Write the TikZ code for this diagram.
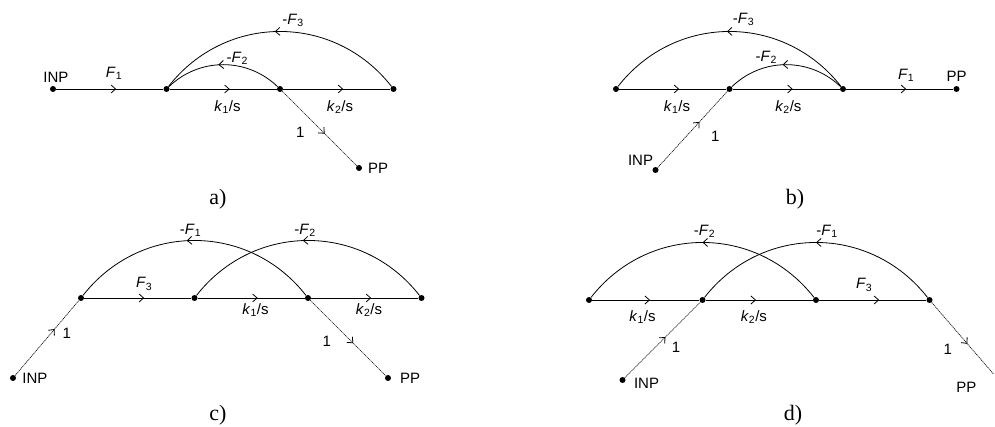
\documentclass[tikz,border=0pt]{standalone}
\usepackage{fontspec}
\setmainfont{Liberation Serif}
\setsansfont{Liberation Sans}
\usepackage{tikz}
\usetikzlibrary{arrows.meta,positioning,decorations.markings}
\tikzset{
    dot/.style={
        circle,
        fill=black,
        inner sep=0pt,
        minimum size=6pt
    },
    lbl/.style={
        font=\sffamily\fontsize{15}{17}\selectfont,
        inner sep=0pt
    },
    caption/.style={
        font=\fontsize{22}{25}\selectfont,
        inner sep=0pt
    },
    branch/.style={line width=0.8pt},
    unitpath/.style={line width=0.6pt,dash pattern=on 1.2pt off 0.7pt},
    flow/.style={
        postaction={decorate},
        decoration={markings,
            mark=at position #1 with {\arrow{Straight Barb[length=4.5pt,width=8pt,line width=0.8pt]}}}
    },
    flow/.default=0.56
}

\begin{document}
\begin{tikzpicture}[x=1pt,y=1pt,node distance=113.5pt,on grid]
    \useasboundingbox (0,0) rectangle (995,-427);

    % a)
    \node[dot] (a1) at (53,-89) {};
    \node[dot, right=of a1] (a2) {};
    \node[dot, right=of a2] (a3) {};
    \node[dot, right=of a3] (a4) {};
    \node[dot, below right=79pt and 79pt of a3] (app) {};
    \node[lbl, above right=12pt and 3pt of a1] (ainp) {INP};
    \node[lbl, right=19pt of app] (appl) {PP};

    \draw[branch,flow] (a1) -- node[lbl,pos=.54,yshift=16pt] (af1)
        {\textit{F}\textsubscript{1}} (a2);
    \draw[branch,flow] (a2) -- node[lbl,pos=.54,yshift=-18pt] (ak1)
        {\textit{k}\textsubscript{1}/s} (a3);
    \draw[branch,flow] (a3) -- node[lbl,pos=.53,yshift=-18pt] (ak2)
        {\textit{k}\textsubscript{2}/s} (a4);
    \draw[branch,flow=.52] (a4) to[bend right=52,looseness=1.07]
        node[lbl,xshift=13pt,yshift=11pt] (af3) {-\textit{F}\textsubscript{3}} (a2);
    \draw[branch,flow=.54] (a3) to[bend right=44]
        node[lbl,xshift=14pt,yshift=6pt] (af2) {-\textit{F}\textsubscript{2}} (a2);
    \draw[unitpath,flow=.57] (a3) -- node[lbl,pos=.55,xshift=-23pt] (ag) {1} (app);
    \node[caption] (capa) at (218,-199) {a)};

    % b)
    \node[dot] (b1) at (616,-89) {};
    \node[dot, right=of b1] (b2) {};
    \node[dot, right=of b2] (b3) {};
    \node[dot, right=of b3] (b4) {};
    \node[dot, below left=81pt and 74pt of b2] (binp) {};
    \node[lbl, above left=10pt and 15pt of binp] (binpl) {INP};
    \node[lbl, above=13pt of b4] (bpp) {PP};

    \draw[branch,flow] (b1) -- node[lbl,pos=.54,yshift=-18pt] (bk1)
        {\textit{k}\textsubscript{1}/s} (b2);
    \draw[branch,flow] (b2) -- node[lbl,pos=.52,yshift=-18pt] (bk2)
        {\textit{k}\textsubscript{2}/s} (b3);
    \draw[branch,flow] (b3) -- node[lbl,pos=.56,yshift=14pt] (bf1)
        {\textit{F}\textsubscript{1}} (b4);
    \draw[branch,flow=.51] (b3) to[bend right=52,looseness=1.07]
        node[lbl,xshift=14pt,yshift=12pt] (bf3) {-\textit{F}\textsubscript{3}} (b1);
    \draw[branch,flow=.53] (b3) to[bend right=44]
        node[lbl,xshift=-20pt,yshift=7pt] (bf2) {-\textit{F}\textsubscript{2}} (b2);
    \draw[unitpath,flow=.6] (binp) -- node[lbl,pos=.41,xshift=29pt] (bg) {1} (b2);
    \node[caption] (capb) at (795,-199) {b)};

    % c)
    \node[dot] (c1) at (81,-298) {};
    \node[dot, right=of c1] (c2) {};
    \node[dot, right=of c2] (c3) {};
    \node[dot, right=of c3] (c4) {};
    \node[dot, below left=80pt and 68pt of c1] (cinp) {};
    \node[dot, below right=80pt and 80pt of c3] (cpp) {};
    \node[lbl, right=22pt of cinp] (cinpl) {INP};
    \node[lbl, right=22pt of cpp] (cppl) {PP};

    \draw[branch,flow] (c1) -- node[lbl,pos=.56,yshift=14pt] (cf3)
        {\textit{F}\textsubscript{3}} (c2);
    \draw[branch,flow] (c2) -- node[lbl,pos=.54,yshift=-12pt] (ck1)
        {\textit{k}\textsubscript{1}/s} (c3);
    \draw[branch,flow] (c3) -- node[lbl,pos=.54,yshift=-12pt] (ck2)
        {\textit{k}\textsubscript{2}/s} (c4);
    \draw[branch,flow=.53] (c3) to[bend right=52,looseness=1.07]
        node[lbl,xshift=-4pt,yshift=10pt] (cf1) {-\textit{F}\textsubscript{1}} (c1);
    \draw[branch,flow=.52] (c4) to[bend right=52,looseness=1.07]
        node[lbl,xshift=-3pt,yshift=10pt] (cf2) {-\textit{F}\textsubscript{2}} (c2);
    \draw[unitpath,flow=.62] (cinp) -- node[lbl,pos=.56,xshift=16pt] (cg1) {1} (c1);
    \draw[unitpath,flow=.57] (c3) -- node[lbl,pos=.55,xshift=-25pt] (cg2) {1} (cpp);
    \node[caption] (capc) at (218,-415) {c)};

    % d)
    \node[dot] (d1) at (589,-300) {};
    \node[dot, right=of d1] (d2) {};
    \node[dot, right=of d2] (d3) {};
    \node[dot, right=of d3] (d4) {};
    \node[dot, below left=80pt and 80pt of d2] (dinp) {};
    \coordinate[below right=74pt and 64pt of d4] (dpp);
    \node[lbl, below right=3pt and 24pt of dinp] (dinpl) {INP};
    \node[lbl, below left=8pt and 17pt of dpp] (dppl) {PP};

    \draw[branch,flow=.54] (d1) -- node[lbl,pos=.47,yshift=-17pt] (dk1)
        {\textit{k}\textsubscript{1}/s} (d2);
    \draw[branch,flow=.47] (d2) -- node[lbl,pos=.45,yshift=-17pt] (dk2)
        {\textit{k}\textsubscript{2}/s} (d3);
    \draw[branch,flow] (d3) -- node[lbl,pos=.42,yshift=15pt] (df3)
        {\textit{F}\textsubscript{3}} (d4);
    \draw[branch,flow=.5] (d3) to[bend right=52,looseness=1.07]
        node[lbl,xshift=2pt,yshift=11pt] (df2) {-\textit{F}\textsubscript{2}} (d1);
    \draw[branch,flow=.5] (d4) to[bend right=52,looseness=1.07]
        node[lbl,xshift=11pt,yshift=11pt] (df1) {-\textit{F}\textsubscript{1}} (d2);
    \draw[unitpath,flow=.54] (dinp) -- node[lbl,pos=.4,xshift=21pt] (dg1) {1} (d2);
    \draw[unitpath,flow=.58] (d4) -- node[lbl,pos=.65,xshift=-24pt] (dg2) {1} (dpp);
    \node[caption] (capd) at (793,-415) {d)};
\end{tikzpicture}
\end{document}
